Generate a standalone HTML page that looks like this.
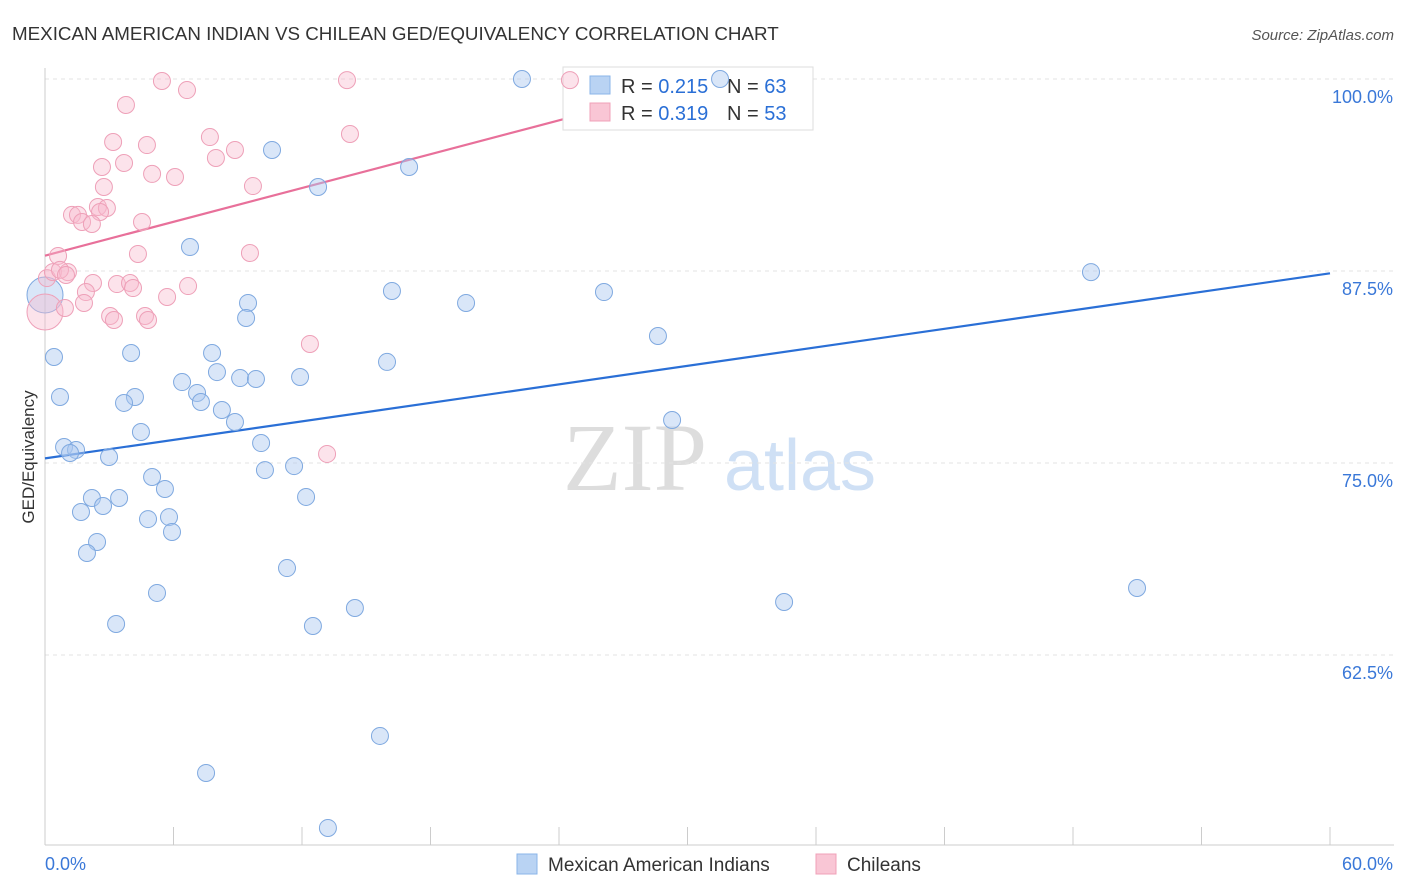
<!DOCTYPE html>
<html><head><meta charset="utf-8">
<style>
body{margin:0;background:#fff;font-family:"Liberation Sans",sans-serif;}
#wrap{position:relative;width:1406px;height:892px;overflow:hidden;}
</style></head>
<body>
<div id="wrap">
<svg id="chart" width="1406" height="892" font-family="Liberation Sans, sans-serif">
<text x="12" y="40" font-size="18.8" fill="#333">MEXICAN AMERICAN INDIAN VS CHILEAN GED/EQUIVALENCY CORRELATION CHART</text>
<text x="1394" y="40" font-size="15" fill="#555" text-anchor="end" font-style="italic">Source: ZipAtlas.com</text>
<text transform="translate(34,457) rotate(-90)" font-size="17" fill="#333" text-anchor="middle">GED/Equivalency</text>
<g><text x="635" y="490" font-size="96" fill="#ddd" font-family="Liberation Serif, serif" text-anchor="middle">ZIP</text><text x="800" y="490" font-size="72" fill="#cfe0f5" text-anchor="middle">atlas</text></g>
<g id="grid"></g><g id="axes"></g><g id="lines"></g>
<g>
<rect x="563" y="67" width="250" height="63" fill="#fff" stroke="#ddd"/>
<rect x="590" y="76" width="20" height="18" fill="#b9d3f3" stroke="#8ab4e8"/>
<text x="621" y="93" font-size="20" fill="#333">R = <tspan fill="#2a6fd6">0.215</tspan></text>
<text x="727" y="93" font-size="20" fill="#333">N = <tspan fill="#2a6fd6">63</tspan></text>
<rect x="590" y="103" width="20" height="18" fill="#f9c6d5" stroke="#f0a0b8"/>
<text x="621" y="120" font-size="20" fill="#333">R = <tspan fill="#2a6fd6">0.319</tspan></text>
<text x="727" y="120" font-size="20" fill="#333">N = <tspan fill="#2a6fd6">53</tspan></text>
</g>
<g id="pts"></g>
<g>
<rect x="517" y="854" width="20" height="20" fill="#b9d3f3" stroke="#8ab4e8"/>
<text x="548" y="871" font-size="19" fill="#333">Mexican American Indians</text>
<rect x="816" y="854" width="20" height="20" fill="#f9c6d5" stroke="#f0a0b8"/>
<text x="847" y="871" font-size="19" fill="#333">Chileans</text>
</g>
</svg>
</div>
<script>
const xTicks=[0,6,12,18,24,30,36,42,48,54,60];
const yTicks=[100,87.5,75,62.5];
const yTickLabels=["100.0%","87.5%","75.0%","62.5%"];
const xEndLabels=["0.0%","60.0%"];
const blueX=[22.27,31.52,10.60,17.00,12.75,6.77,48.84,16.20,26.10,19.66,9.48,9.39,28.62,0.42,4.02,7.80,15.97,8.03,6.40,9.11,9.85,11.91,0.70,4.20,3.69,7.10,7.28,8.26,8.87,29.28,4.48,0.89,1.45,1.17,2.99,10.09,11.63,10.27,5.00,5.60,2.19,3.46,12.19,2.71,1.68,4.81,5.79,5.93,2.43,1.96,11.30,5.23,14.47,50.99,34.51,3.32,12.51,15.64,7.52,13.21];
const blueY=[100,100,95.38,94.27,92.97,89.06,87.43,86.20,86.13,85.42,85.42,84.44,83.27,81.90,82.16,82.16,81.58,80.92,80.27,80.53,80.47,80.60,79.30,79.30,78.91,79.56,78.97,78.45,77.67,77.80,77.02,76.04,75.85,75.65,75.39,76.30,74.80,74.54,74.09,73.31,72.72,72.72,72.79,72.20,71.81,71.35,71.48,70.51,69.86,69.14,68.16,66.54,65.56,66.86,65.95,64.52,64.39,57.23,54.82,51.24];
const pinkX=[5.46,14.10,24.51,6.63,3.78,14.24,3.18,4.76,7.70,8.87,2.66,3.69,7.98,5.00,6.07,2.75,9.71,1.26,1.54,2.47,2.89,2.57,1.73,2.19,4.53,0.61,4.34,9.57,0.09,0.37,1.07,0.70,0.98,2.24,3.36,3.97,4.11,1.91,6.68,5.70,1.82,0.93,3.04,3.22,4.67,4.81,12.37,13.17];
const pinkY=[99.87,99.93,99.93,99.28,98.31,96.42,95.90,95.70,96.22,95.38,94.27,94.53,94.86,93.82,93.62,92.97,93.03,91.15,91.15,91.67,91.60,91.34,90.69,90.56,90.69,88.48,88.61,88.67,87.04,87.43,87.43,87.57,87.24,86.72,86.65,86.72,86.39,86.13,86.52,85.81,85.42,85.09,84.57,84.31,84.57,84.31,82.75,75.59];
const bigBlue=[0,85.94];
const bigPink=[0,84.83];
const blueTrend=[75.3,87.35];
const pinkTrend=[88.5,97.6];
const pinkTrendEnd=24.8;

const NS="http://www.w3.org/2000/svg";
const xs=v=>45+v/60*1285;
const ys=v=>79+(100-v)/12.5*192;
function mk(tag,parent,attrs){const e=document.createElementNS(NS,tag);for(const k in attrs)e.setAttribute(k,attrs[k]);parent.appendChild(e);return e;}
const grid=document.getElementById('grid'),axes=document.getElementById('axes'),lines=document.getElementById('lines'),pts=document.getElementById('pts');
yTicks.forEach((t,i)=>{
  const l=mk('line',grid,{x1:45,x2:1394,y1:ys(t),y2:ys(t),stroke:'#e3e3e3','stroke-dasharray':'4,4'});
  
  
  const tx=mk('text',axes,{x:1393,y:ys(t)+24,'font-size':18,fill:'#3a78d8','text-anchor':'end'});
  tx.textContent=yTickLabels[i];
  
  
});
const ax=mk('line',axes,{x1:45,x2:1394,y1:845,y2:845,stroke:'#ccc'});


const ay=mk('line',axes,{x1:45,x2:45,y1:68,y2:845,stroke:'#ccc'});


xTicks.forEach(t=>{
  const l=mk('line',axes,{x1:xs(t),x2:xs(t),y1:827,y2:845,stroke:'#ccc'});
  
  
});
const xl0=mk('text',axes,{x:45,y:870,'font-size':18,fill:'#3a78d8'});xl0.textContent=xEndLabels[0];


const xl1=mk('text',axes,{x:1393,y:870,'font-size':18,fill:'#3a78d8','text-anchor':'end'});xl1.textContent=xEndLabels[1];



function dot(x,y,r,fill,stroke,name){
  const c=mk('circle',pts,{cx:xs(x),cy:ys(y),r:r,fill:fill,stroke:stroke,'stroke-width':1});
  
  
}
const bf='rgba(170,200,240,0.45)',bs='#7fa9e0',pf='rgba(248,185,205,0.4)',ps='#eea0b8';
dot(bigBlue[0],bigBlue[1],18,bf,bs,'point-mexican-american-indian');
dot(bigPink[0],bigPink[1],18,pf,ps,'point-chilean');
blueX.forEach((x,i)=>dot(x,blueY[i],8.5,bf,bs,'point-mexican-american-indian'));
pinkX.forEach((x,i)=>dot(x,pinkY[i],8.5,pf,ps,'point-chilean'));
const bl=mk('line',lines,{x1:xs(0),y1:ys(blueTrend[0]),x2:xs(60),y2:ys(blueTrend[1]),stroke:'#2a6fd6','stroke-width':2.2});


const pl=mk('line',lines,{x1:xs(0),y1:ys(pinkTrend[0]),x2:xs(pinkTrendEnd),y2:ys(pinkTrend[1]),stroke:'#e8709a','stroke-width':2.2});


</script>
</body></html>
